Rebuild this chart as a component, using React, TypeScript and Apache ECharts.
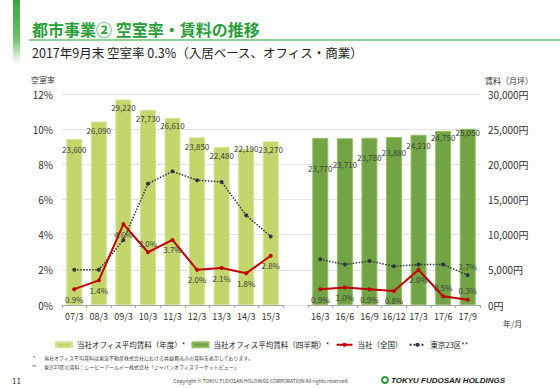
import React, { useEffect, useRef } from "react";
import * as echarts from "echarts";

const yearCats = ["07/3", "08/3", "09/3", "10/3", "11/3", "12/3", "13/3", "14/3", "15/3"];
const quarterCats = ["16/3", "16/6", "16/9", "16/12", "17/3", "17/6", "17/9"];
const yearRent = [23600, 26090, 29220, 27730, 26610, 23850, 22480, 22190, 23270];
const quarterRent = [23770, 23710, 23780, 23880, 24210, 24750, 25050];
const yearVacancy = [0.9, 1.4, 4.6, 3.0, 3.7, 2.0, 2.1, 1.8, 2.8];
const quarterVacancy = [0.9, 1.0, 0.9, 0.8, 2.0, 0.5, 0.3];
const yearTokyo = [2.0, 2.0, 3.7, 6.9, 7.6, 7.1, 7.0, 5.1, 3.9];
const quarterTokyo = [2.6, 2.3, 2.5, 2.2, 2.3, 2.3, 1.7];
const vacancyAxis = { min: 0, max: 12, interval: 2 };
const rentAxis = { min: 0, max: 30000, interval: 5000 };

// layout-only helpers (label placement), not data
const yearRentLabelShift = [10, 9, 8, 9, 8, 9, 9, 0, 8];
const quarterRentLabelShift = [31, 26, 20, 15, 11, 7, 4];
const yearVacancyLabelPos = ["bottom", "bottom", "bottom", "top", "bottom", "bottom", "bottom", "bottom", "bottom"];
const quarterVacancyLabelPos = ["bottom", "bottom", "bottom", "bottom", "bottom", "top", "top"];

const NAME_YEAR = "当社オフィス平均賃料（年度）*";
const NAME_QUARTER = "当社オフィス平均賃料（四半期）*";
const NAME_OWN = "当社（全国）";
const NAME_TOKYO = "東京23区**";

const FONT = "'Noto Sans CJK JP', 'Noto Sans', sans-serif";
const LIGHT = "#c3d66b";
const DARK = "#72a344";
const RED = "#c00000";
const NAVY = "#2f3443";
const TXT = "#404040";

const GRID_TOP = 94;
const GRID_BOTTOM = 83;

export default function App() {
  const ref = useRef<HTMLDivElement>(null);
  useEffect(() => {
    if (!ref.current) return;
    const chart = echarts.init(ref.current, null, { renderer: "svg" });

    const barLabel = (shift: number[]) => (v: number, i: number) => ({
      value: v,
      label: { offset: [0, shift[i] - 4] },
    });
    const lineData = (vals: number[], pos: string[]) =>
      vals.map((v, i) => ({
        value: v,
        label: { position: pos[i], distance: pos[i] === "top" ? 3 : 4 },
      }));

    const hiddenY = (grid: number, r: any) => ({ gridIndex: grid, type: "value", ...r, show: false });
    const catX = (grid: number, data: string[]) => ({
      gridIndex: grid,
      type: "category",
      data,
      axisLine: { show: true, lineStyle: { color: "#a6a6a6" } },
      axisTick: { show: true, length: 3, alignWithLabel: false, lineStyle: { color: "#a6a6a6" } },
      axisLabel: { color: "#333", fontSize: 9, margin: 7, fontFamily: FONT, interval: 0 },
    });

    const lineLabel = {
      show: true,
      fontSize: 8,
      color: TXT,
      fontFamily: FONT,
      formatter: (p: any) => `${Number(p.value).toFixed(1)}%`,
    };

    const option: any = {
      animation: false,
      textStyle: { fontFamily: FONT },
      grid: [
        { left: 62, right: 80, top: GRID_TOP, bottom: GRID_BOTTOM },
        { left: 62, width: 221, top: GRID_TOP, bottom: GRID_BOTTOM },
        { left: 308, width: 172, top: GRID_TOP, bottom: GRID_BOTTOM },
      ],
      xAxis: [
        { gridIndex: 0, type: "value", show: false, min: 0, max: 1 },
        catX(1, yearCats),
        catX(2, quarterCats),
      ],
      yAxis: [
        {
          gridIndex: 0,
          type: "value",
          position: "left",
          ...vacancyAxis,
          axisLine: { show: false },
          axisTick: { show: false },
          axisLabel: { formatter: (v: number) => `${v}%`, color: "#333", fontSize: 10, margin: 9, fontFamily: FONT },
          splitLine: { lineStyle: { color: "#e3e3e3", width: 1 } },
        },
        {
          gridIndex: 0,
          type: "value",
          position: "right",
          ...rentAxis,
          axisLine: { show: false },
          axisTick: { show: false },
          axisLabel: {
            formatter: (v: number) => `${v.toLocaleString("en-US")}円`,
            color: "#333",
            fontSize: 10,
            margin: 8,
            fontFamily: FONT,
          },
          splitLine: { show: false },
        },
        hiddenY(1, vacancyAxis),
        hiddenY(1, rentAxis),
        hiddenY(2, vacancyAxis),
        hiddenY(2, rentAxis),
      ],
      legend: {
        left: 50,
        top: 336,
        itemWidth: 16,
        itemHeight: 5,
        itemGap: 6,
        textStyle: { fontSize: 7.5, color: "#1a1a1a", fontFamily: FONT },
        data: [
          { name: NAME_YEAR, icon: "rect" },
          { name: NAME_QUARTER, icon: "rect" },
          { name: NAME_OWN },
          { name: NAME_TOKYO },
        ],
      },
      series: [
        {
          name: NAME_YEAR,
          type: "bar",
          xAxisIndex: 1,
          yAxisIndex: 3,
          barWidth: 16,
          itemStyle: { color: LIGHT, borderColor: "#d6e49a", borderWidth: 1 },
          label: {
            show: true,
            position: "insideTop",
            distance: 0,
            fontSize: 8,
            color: TXT,
            fontFamily: FONT,
            formatter: (p: any) => Number(p.value).toLocaleString("en-US"),
          },
          data: yearRent.map(barLabel(yearRentLabelShift)),
          z: 2,
        },
        {
          name: NAME_QUARTER,
          type: "bar",
          xAxisIndex: 2,
          yAxisIndex: 5,
          barWidth: 16,
          itemStyle: { color: DARK, borderColor: "#93c065", borderWidth: 1 },
          label: {
            show: true,
            position: "insideTop",
            distance: 0,
            fontSize: 8,
            color: TXT,
            fontFamily: FONT,
            formatter: (p: any) => Number(p.value).toLocaleString("en-US"),
          },
          data: quarterRent.map(barLabel(quarterRentLabelShift)),
          z: 2,
        },
        {
          name: NAME_TOKYO,
          type: "line",
          xAxisIndex: 1,
          yAxisIndex: 2,
          symbol: "circle",
          symbolSize: 4,
          lineStyle: { color: NAVY, width: 1.5, type: "dotted" },
          itemStyle: { color: NAVY },
          data: yearTokyo,
          z: 4,
        },
        {
          name: NAME_TOKYO,
          type: "line",
          xAxisIndex: 2,
          yAxisIndex: 4,
          symbol: "circle",
          symbolSize: 4,
          lineStyle: { color: NAVY, width: 1.5, type: "dotted" },
          itemStyle: { color: NAVY },
          data: quarterTokyo.map((v, i) =>
            i === quarterTokyo.length - 1
              ? { value: v, label: { show: true, position: "top", distance: 3, ...lineLabel } }
              : v
          ),
          z: 4,
        },
        {
          name: NAME_OWN,
          type: "line",
          xAxisIndex: 1,
          yAxisIndex: 2,
          symbol: "circle",
          symbolSize: 4,
          lineStyle: { color: RED, width: 2 },
          itemStyle: { color: RED },
          label: lineLabel,
          data: lineData(yearVacancy, yearVacancyLabelPos),
          z: 5,
        },
        {
          name: NAME_OWN,
          type: "line",
          xAxisIndex: 2,
          yAxisIndex: 4,
          symbol: "circle",
          symbolSize: 4,
          lineStyle: { color: RED, width: 2 },
          itemStyle: { color: RED },
          label: lineLabel,
          data: lineData(quarterVacancy, quarterVacancyLabelPos),
          z: 5,
        },
      ],
      graphic: [
        {
          type: "rect",
          shape: { x: 13, y: 0, width: 7, height: 64 },
          style: {
            fill: new echarts.graphic.LinearGradient(0, 0, 0, 1, [
              { offset: 0, color: "#3aa53a" },
              { offset: 0.6, color: "#6cc06c" },
              { offset: 1, color: "#ffffff" },
            ]),
          },
          silent: true,
        },
        {
          type: "text",
          x: 32,
          y: 29,
          style: {
            text: "都市事業② 空室率・賃料の推移",
            font: `bold 16px ${FONT}`,
            fill: "#2a9d3a",
            verticalAlign: "middle",
          },
        },
        {
          type: "line",
          shape: { x1: 29, y1: 40, x2: 560, y2: 40 },
          style: { stroke: "#6cc070", lineWidth: 1.5 },
        },
        {
          type: "text",
          x: 32,
          y: 52,
          style: {
            text: "2017年9月末 空室率 0.3%（入居ベース、オフィス・商業）",
            font: `12.5px ${FONT}`,
            fill: "#222",
            verticalAlign: "middle",
          },
        },
        {
          type: "text",
          x: 43,
          y: 79,
          style: { text: "空室率", font: `8px ${FONT}`, fill: "#333", align: "center", verticalAlign: "middle" },
        },
        {
          type: "text",
          x: 485,
          y: 80,
          style: { text: "賃料（月坪）", font: `8px ${FONT}`, fill: "#333", verticalAlign: "middle" },
        },
        {
          type: "text",
          x: 503,
          y: 323,
          style: { text: "年/月", font: `8px ${FONT}`, fill: "#333", verticalAlign: "middle" },
        },
        {
          type: "text",
          x: 33,
          y: 357,
          style: { text: "*", font: `5px ${FONT}`, fill: "#444", verticalAlign: "middle" },
        },
        {
          type: "text",
          x: 44,
          y: 357,
          style: {
            text: "当社オフィス平均賃料は東急不動産株式会社における共益費込みの賃料を表示しております。",
            font: `5px ${FONT}`,
            fill: "#444",
            verticalAlign: "middle",
          },
        },
        {
          type: "text",
          x: 32,
          y: 366,
          style: { text: "**", font: `5px ${FONT}`, fill: "#444", verticalAlign: "middle" },
        },
        {
          type: "text",
          x: 44,
          y: 366,
          style: {
            text: "東京23区の賃料：シーピーアールイー株式会社「ジャパンオフィスマーケットビュー」",
            font: `5px ${FONT}`,
            fill: "#444",
            verticalAlign: "middle",
          },
        },
        {
          type: "text",
          x: 12,
          y: 380,
          style: { text: "11", font: `8px ${FONT}`, fill: "#333", verticalAlign: "middle" },
        },
        {
          type: "text",
          x: 261,
          y: 380,
          style: {
            text: "Copyright © TOKYU FUDOSAN HOLDINGS CORPORATION All rights reserved.",
            font: `5px ${FONT}`,
            fill: "#444",
            align: "center",
            verticalAlign: "middle",
          },
        },
        {
          type: "circle",
          shape: { cx: 385, cy: 380, r: 3 },
          style: { fill: "#fff", stroke: "#2a9d3a", lineWidth: 2 },
        },
        {
          type: "text",
          x: 391,
          y: 380,
          style: {
            text: "TOKYU FUDOSAN HOLDINGS",
            font: `italic bold 8px 'Liberation Sans', Arial, sans-serif`,
            fill: "#1a1a1a",
            verticalAlign: "middle",
          },
        },
      ],
    };

    chart.setOption(option);
    return () => chart.dispose();
  }, []);

  return (
    <div
      ref={ref}
      style={{ position: "fixed", left: 0, top: 0, width: 560, height: 388, background: "#fff" }}
    />
  );
}
